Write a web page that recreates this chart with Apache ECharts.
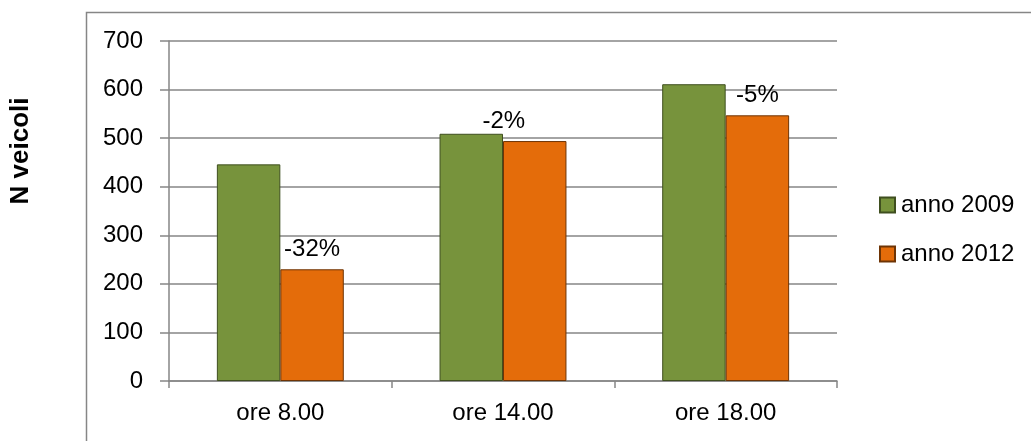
<!DOCTYPE html>
<html>
<head>
<meta charset="utf-8">
<script src="https://cdn.jsdelivr.net/npm/echarts@6/dist/echarts.min.js"></script>
<style>
html,body{margin:0;padding:0;background:#fff;}
#chart{width:1031px;height:441px;}
</style>
</head>
<body>
<div id="chart"></div>
<script>
const categories = ['ore 8.00', 'ore 14.00', 'ore 18.00'];
const seriesNames = ['anno 2009', 'anno 2012'];
const values2009 = [446, 509, 611];
const values2012 = [230, 494, 547];
const pctLabels = ['-32%', '-2%', '-5%'];
const yTicks = [0, 100, 200, 300, 400, 500, 600, 700];
const yAxisTitle = 'N veicoli';

const FONT = 'Liberation Sans, Arial, sans-serif';
const GRAY = '#868686';

const chart = echarts.init(document.getElementById('chart'));
const labelOffsets = [[0, 0], [-31, 0], [0, 0]];

chart.setOption({
  animation: false,
  textStyle: { fontFamily: FONT },
  graphic: [
    {
      type: 'rect',
      shape: { x: 86.5, y: 12.5, width: 2000, height: 2000 },
      style: { fill: 'none', stroke: GRAY, lineWidth: 1.5 },
      silent: true
    },
    {
      type: 'text',
      x: 21, y: 151,
      rotation: Math.PI / 2,
      style: {
        text: yAxisTitle,
        font: 'bold 26px ' + FONT,
        fill: '#000',
        align: 'center',
        verticalAlign: 'middle'
      }
    }
  ],
  grid: {
    left: 169, right: 194, top: 41, bottom: 60,
    containLabel: false, outerBoundsMode: 'none'
  },
  legend: {
    orient: 'vertical',
    left: 879, top: 193,
    padding: 0,
    itemWidth: 15, itemHeight: 15,
    itemGap: 25,
    icon: 'rect',
    data: seriesNames,
    textStyle: { fontSize: 24, lineHeight: 24, color: '#000', fontFamily: FONT, padding: [0, 0, 0, 1] }
  },
  xAxis: {
    type: 'category',
    data: categories,
    axisLine: { lineStyle: { color: GRAY, width: 1.5 } },
    axisTick: { show: true, length: 7, lineStyle: { color: GRAY, width: 1.5 } },
    axisLabel: { fontSize: 24, color: '#000', margin: 20, fontFamily: FONT }
  },
  yAxis: {
    type: 'value',
    min: yTicks[0], max: yTicks[yTicks.length - 1], interval: 100,
    axisLine: { show: true, lineStyle: { color: GRAY, width: 1.5 } },
    axisTick: { show: true, length: 9, lineStyle: { color: GRAY, width: 1.5 } },
    splitLine: { lineStyle: { color: GRAY, width: 1.5 } },
    axisLabel: { fontSize: 24, color: '#000', margin: 26, fontFamily: FONT }
  },
  series: [
    {
      name: seriesNames[0],
      type: 'bar',
      data: values2009,
      barGap: '0%',
      barCategoryGap: '43%',
      itemStyle: { color: '#77933c', borderColor: '#3f4f1f', borderWidth: 1 }
    },
    {
      name: seriesNames[1],
      type: 'bar',
      data: values2012.map((v, i) => ({
        value: v,
        label: { offset: labelOffsets[i] }
      })),
      barGap: '0%',
      barCategoryGap: '43%',
      itemStyle: { color: '#e46c0a', borderColor: '#6e3405', borderWidth: 1 },
      label: {
        show: true,
        position: 'top',
        distance: 8,
        fontSize: 24,
        color: '#000',
        fontFamily: FONT,
        formatter: p => pctLabels[p.dataIndex]
      }
    }
  ]
});
</script>
</body>
</html>
